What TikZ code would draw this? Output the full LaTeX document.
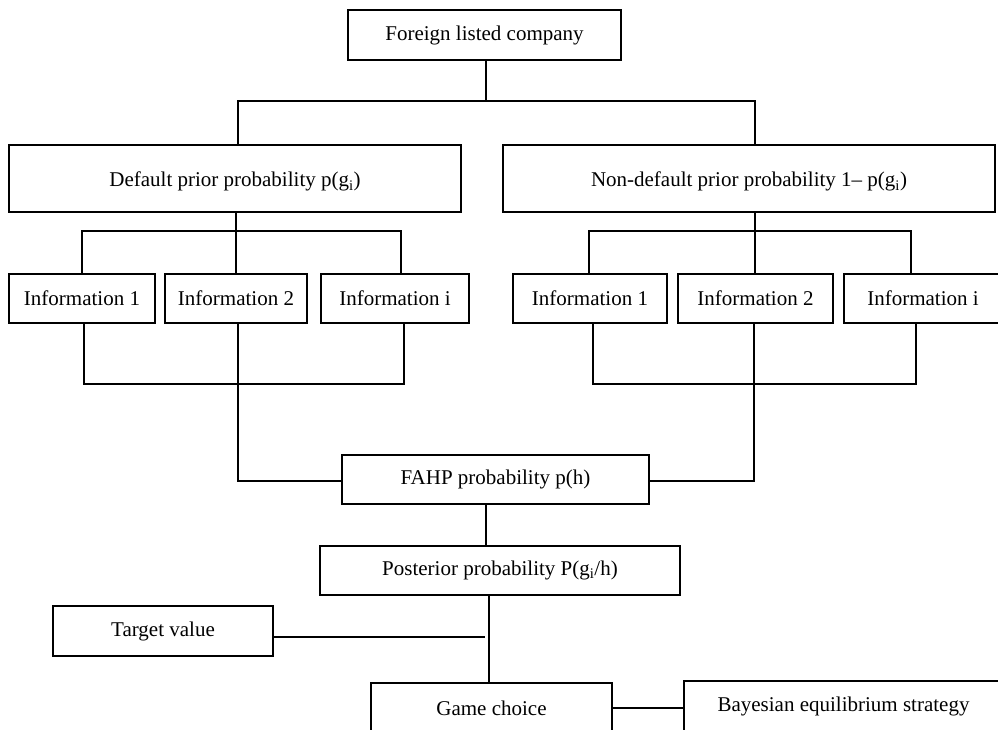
\documentclass[tikz,border=0pt]{standalone}
\usepackage{fontspec}
\setmainfont{Liberation Serif}
\begin{document}
\begin{tikzpicture}[x=1pt,y=-1pt,
  box/.style={draw,line width=1.6pt,inner sep=0pt,font=\fontsize{21}{25}\selectfont},
  conn/.style={line width=1.6pt}]
\useasboundingbox (0,0) rectangle (998,729);
\clip (0,0) rectangle (998,729);
\fill[white] (0,0) rectangle (998,729);
% nodes
\node[box,minimum width=273pt,minimum height=50pt] (fc) at (484.5,35) {Foreign listed company};
\node[box,minimum width=452pt,minimum height=67pt,text depth=0pt] (def) at (235,178.5) {\raisebox{-2pt}{Default prior probability p(g\textsubscript{i})}};
\node[box,minimum width=492pt,minimum height=67pt,text depth=0pt] (nd) at (749,178.5) {\raisebox{-2pt}{Non-default prior probability 1– p(g\textsubscript{i})}};
\node[box,minimum width=146pt,minimum height=49pt] (i1) at (82,298.5) {Information 1};
\node[box,minimum width=142pt,minimum height=49pt] (i2) at (236,298.5) {Information 2};
\node[box,minimum width=148pt,minimum height=49pt] (ii) at (395,298.5) {Information i};
\node[box,minimum width=154pt,minimum height=49pt] (j1) at (590,298.5) {Information 1};
\node[box,minimum width=155pt,minimum height=49pt] (j2) at (755.5,298.5) {Information 2};
\node[box,minimum width=158pt,minimum height=49pt] (ji) at (923,298.5) {Information i};
\node[box,minimum width=307pt,minimum height=49pt] (fahp) at (495.5,479.5) {FAHP probability p(h)};
\node[box,minimum width=360pt,minimum height=49pt] (post) at (500,570.5) {Posterior probability P(g\textsubscript{i}/h)};
\node[box,minimum width=220pt,minimum height=50pt] (tv) at (163,631) {Target value};
\node[box,minimum width=241pt,minimum height=50pt] (gc) at (491.5,708) {Game choice};
\node[box,minimum width=319pt,minimum height=50pt] (be) at (843.5,706) {Bayesian equilibrium strategy};
% junctions
\coordinate (t1) at (486,101);
\coordinate (l1) at (236,231);
\coordinate (r1) at (755,231);
\coordinate (l2) at (238,384);
\coordinate (r2) at (754,384);
\coordinate (tvend) at (485,637);
% top
\draw[conn] (fc.south -| t1) -- (t1);
\draw[conn] (def.north -| 238,0) |- (t1) -| (nd.north -| 755,0);
% left upper bracket
\draw[conn] (def.south -| l1) -- (l1);
\draw[conn] (i1.north) |- (l1) -| (ii.north -| 401,0);
\draw[conn] (i2.north) -- (l1);
% right upper bracket
\draw[conn] (nd.south -| r1) -- (r1);
\draw[conn] (j1.north -| 589,0) |- (r1) -| (ji.north -| 911,0);
\draw[conn] (j2.north -| r1) -- (r1);
% left lower bracket
\draw[conn] (i1.south -| 84,0) |- (l2) -| (ii.south -| 404,0);
\draw[conn] (i2.south -| l2) -- (l2) |- (fahp.west |- 0,481);
% right lower bracket
\draw[conn] (j1.south -| 593,0) |- (r2) -| (ji.south -| 916,0);
\draw[conn] (j2.south -| r2) -- (r2) |- (fahp.east |- 0,481);
% lower chain
\draw[conn] (fahp.south -| 486,0) -- (post.north -| 486,0);
\draw[conn] (post.south -| 489,0) -- (gc.north -| 489,0);
\draw[conn] (tv.east |- tvend) -- (tvend);
\draw[conn] (gc.east) -- (be.west |- gc.east);
\end{tikzpicture}
\end{document}
